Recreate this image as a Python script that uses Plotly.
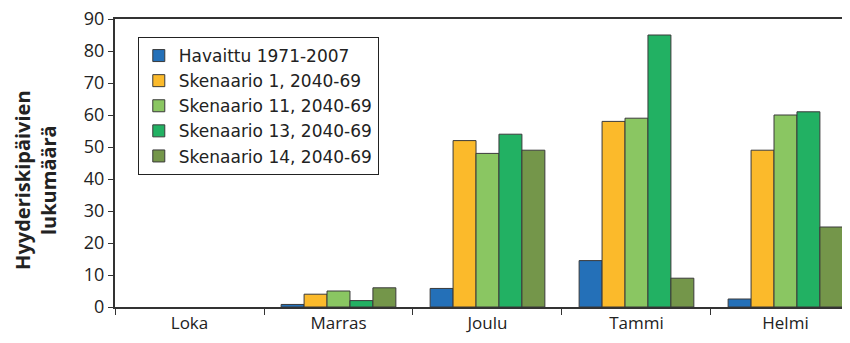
import plotly.graph_objects as go

# Data
months = ['Loka', 'Marras', 'Joulu', 'Tammi', 'Helmi']
series_names = ['Havaittu 1971-2007',
                'Skenaario 1, 2040-69',
                'Skenaario 11, 2040-69',
                'Skenaario 13, 2040-69',
                'Skenaario 14, 2040-69']
# Loka has no bars drawn (no days)
havaittu = [None, 0.8, 5.8, 14.5, 2.5]
sken_1 = [None, 4, 52, 58, 49]
sken_11 = [None, 5, 48, 59, 60]
sken_13 = [None, 2, 54, 85, 61]
sken_14 = [None, 6, 49, 9, 25]
y_ticks = [0, 10, 20, 30, 40, 50, 60, 70, 80, 90]

colours = ['#2470B8', '#FBBA2B', '#8AC662', '#22B163', '#74964A']

fig = go.Figure()
for name, vals, col in zip(series_names,
                           [havaittu, sken_1, sken_11, sken_13, sken_14],
                           colours):
    fig.add_trace(go.Bar(x=months, y=vals, name=name,
                         marker=dict(color=col,
                                     line=dict(color='#3a3a3a', width=1))))

# y title as an annotation (sits lower than axis centre in the original)
fig.add_annotation(text='<b>Hyyderiskipäivien<br>lukumäärä</b>',
                   xref='paper', yref='paper', x=-0.108, y=0.44,
                   xanchor='center', yanchor='middle', textangle=-90,
                   showarrow=False, font=dict(size=20, color='#222'))

# page body has an 8px margin, so margins are shifted by 8px
fig.update_layout(
    width=850, height=343,
    barmode='group', bargap=0.23, bargroupgap=0,
    margin=dict(l=107, r=8, t=11, b=44),
    font=dict(family='Open Sans', size=17, color='#222'),
    paper_bgcolor='white', plot_bgcolor='white',
    legend=dict(x=0.031, y=0.9375, xanchor='left', yanchor='top',
                bordercolor='#222', borderwidth=1, bgcolor='white',
                font=dict(size=17, family='DejaVu Sans'), tracegroupgap=0),
)

fig.update_xaxes(range=[-0.5, 4.433], showline=True, linecolor='#333',
                 linewidth=2, mirror=True, ticks='outside',
                 tickson='boundaries', ticklen=6, tickcolor='#333',
                 showgrid=False, automargin=False)
fig.update_yaxes(range=[0, 90], tickvals=y_ticks, showline=True,
                 linecolor='#333', linewidth=2, ticks='outside',
                 ticklen=5, tickcolor='#333', showgrid=False,
                 zeroline=False, tickfont=dict(size=18), automargin=False,
                 ticklabeloverflow='allow')

fig.write_html('out.html')
